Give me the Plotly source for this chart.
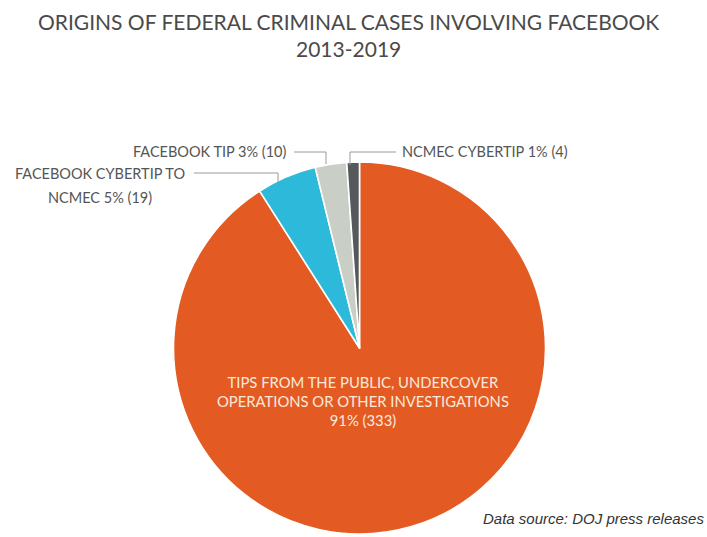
import plotly.graph_objects as go

W, H = 707, 537

# Data
categories = [
    "TIPS FROM THE PUBLIC, UNDERCOVER OPERATIONS OR OTHER INVESTIGATIONS",
    "FACEBOOK CYBERTIP TO NCMEC",
    "FACEBOOK TIP",
    "NCMEC CYBERTIP",
]
counts = [333, 19, 10, 4]
percent_labels = ["91%", "5%", "3%", "1%"]
colors = ["#E35B22", "#2DB9D9", "#C9CEC6", "#55595B"]

title_line1 = "ORIGINS OF FEDERAL CRIMINAL CASES INVOLVING FACEBOOK"
title_line2 = "2013-2019"
source_text = "Data source: DOJ press releases"


def px(x):
    return x / W


def py(y):
    return 1 - y / H


fig = go.Figure(
    go.Pie(
        labels=categories,
        values=counts,
        sort=False,
        direction="clockwise",
        rotation=0,
        marker=dict(colors=colors, line=dict(color="white", width=1.6)),
        textinfo="none",
        hoverinfo="label+value+percent",
        showlegend=False,
        domain=dict(x=[px(173), px(546)], y=[py(534), py(162)]),
    )
)

label_font = dict(family="Lato, 'Open Sans', sans-serif", size=14.5, color="#555555")
title_font = dict(family="Lato, sans-serif", size=21, color="#4A4A4A")
line_style = dict(color="#9A9A9A", width=1)

annotations = [
    dict(x=px(348), y=py(22), text=title_line1, showarrow=False,
         font=title_font, xanchor="center", yanchor="middle"),
    dict(x=px(348), y=py(48), text=title_line2, showarrow=False,
         font=title_font, xanchor="center", yanchor="middle"),
    # inside label of the big slice
    dict(x=px(363), y=py(401),
         text=("TIPS FROM THE PUBLIC, UNDERCOVER<br>OPERATIONS OR OTHER INVESTIGATIONS<br>"
               f"{percent_labels[0]} ({counts[0]})"),
         showarrow=False, align="center",
         font=dict(family="Lato, sans-serif", size=14.8, color="#F8E9DC"),
         xanchor="center", yanchor="middle"),
    # Facebook cybertip (two lines)
    dict(x=px(100), y=py(173), text="FACEBOOK CYBERTIP TO",
         showarrow=False, font=label_font, xanchor="center", yanchor="middle"),
    dict(x=px(100), y=py(197), text=f"NCMEC {percent_labels[1]} ({counts[1]})",
         showarrow=False, font=label_font, xanchor="center", yanchor="middle"),
    # Facebook tip
    dict(x=px(289), y=py(152),
         text=f"FACEBOOK TIP {percent_labels[2]} ({counts[2]})",
         showarrow=False, font=label_font, xanchor="right", yanchor="middle"),
    # NCMEC cybertip
    dict(x=px(400), y=py(152),
         text=f"NCMEC CYBERTIP {percent_labels[3]} ({counts[3]})",
         showarrow=False, font=label_font, xanchor="left", yanchor="middle"),
    # data source
    dict(x=px(706), y=py(518), text=f"<i>{source_text}</i>", showarrow=False,
         font=dict(family="Liberation Sans, Arial, sans-serif", size=15, color="#333333"),
         xanchor="right", yanchor="middle"),
]

shapes = [
    # Facebook cybertip leader
    dict(type="line", xref="paper", yref="paper", x0=px(194), y0=py(173), x1=px(278), y1=py(173), line=line_style),
    dict(type="line", xref="paper", yref="paper", x0=px(278), y0=py(173), x1=px(278), y1=py(182), line=line_style),
    # Facebook tip leader
    dict(type="line", xref="paper", yref="paper", x0=px(294), y0=py(152), x1=px(326), y1=py(152), line=line_style),
    dict(type="line", xref="paper", yref="paper", x0=px(326), y0=py(152), x1=px(326), y1=py(164), line=line_style),
    # NCMEC cybertip leader
    dict(type="line", xref="paper", yref="paper", x0=px(350), y0=py(165), x1=px(350), y1=py(152), line=line_style),
    dict(type="line", xref="paper", yref="paper", x0=px(350), y0=py(152), x1=px(396), y1=py(152), line=line_style),
]

fig.update_layout(
    width=W,
    height=H,
    margin=dict(l=0, r=0, t=0, b=0),
    paper_bgcolor="white",
    plot_bgcolor="white",
    annotations=annotations,
    shapes=shapes,
)

fig.write_html("out.html")
